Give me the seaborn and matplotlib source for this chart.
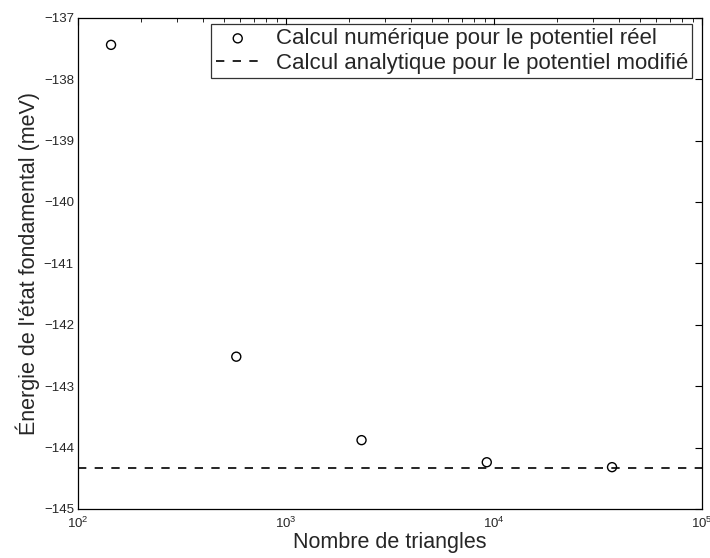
import matplotlib
matplotlib.use("Agg")
import matplotlib.pyplot as plt
import seaborn as sns
import pandas as pd
import numpy as np
from matplotlib.ticker import LogLocator, FixedLocator

# Ground-state energy versus mesh size
n_triangles = [144, 576, 2304, 9216, 36864]
energy_numeric = [-137.44, -142.52, -143.88, -144.24, -144.32]
energy_analytic = -144.34

label_numeric = "Calcul numérique pour le potentiel réel"
label_analytic = "Calcul analytique pour le potentiel modifié"
xlabel = "Nombre de triangles"
ylabel = "Énergie de l'état fondamental (meV)"

sns.set_theme(style="white")
plt.rcParams["font.family"] = ["Liberation Sans", "DejaVu Sans"]
plt.rcParams["mathtext.fontset"] = "custom"
plt.rcParams["mathtext.rm"] = "Liberation Sans"

df = pd.DataFrame({"n": n_triangles, "E": energy_numeric})

fig = plt.figure(figsize=(7.1, 5.58), dpi=100)
ax = fig.add_axes([0.110, 0.088, 0.879, 0.880])

sns.scatterplot(data=df, x="n", y="E", ax=ax, marker="o", s=42,
                facecolor="none", edgecolor="black", linewidth=1.0,
                label=label_numeric, zorder=3)
ax.axhline(energy_analytic, color="black", linestyle=(0, (5, 5)),
           linewidth=1.2, label=label_analytic)

ax.set_xscale("log")
ax.set_xlim(1e2, 1e5)
ax.set_ylim(-145, -137)
ax.yaxis.set_major_locator(FixedLocator(np.arange(-145, -136.5, 1)))
ax.xaxis.set_major_locator(LogLocator(base=10))
ax.xaxis.set_minor_locator(LogLocator(base=10, subs=np.arange(2, 10)))

ax.set_xlabel(xlabel, fontsize=15.5, labelpad=1)
ax.set_ylabel(ylabel, fontsize=15.5, labelpad=3)

ax.tick_params(axis="both", which="both", direction="in", top=True,
               right=True, labelsize=9.5, color="black")
ax.tick_params(which="major", length=5, width=0.8)
ax.tick_params(which="minor", length=3, width=0.6)
ax.tick_params(axis="x", which="major", pad=5)
ax.tick_params(axis="y", which="major", pad=3)

for side in ax.spines.values():
    side.set_color("black")
    side.set_linewidth(0.9)

leg = ax.legend(loc="upper right", bbox_to_anchor=(0.984, 0.988),
                borderaxespad=0, fontsize=16, frameon=True, fancybox=False,
                edgecolor="black", handlelength=2.0, handletextpad=0.7,
                borderpad=0.2, labelspacing=0.15)
leg.get_frame().set_linewidth(0.9)

fig.savefig("out.png", dpi=100, facecolor="white")
